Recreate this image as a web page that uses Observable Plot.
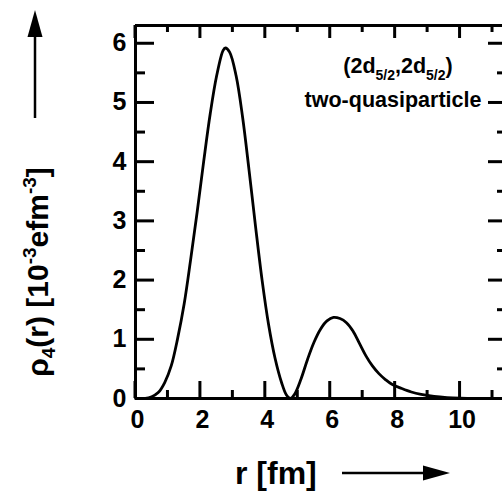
<!DOCTYPE html>
<html><head><meta charset="utf-8">
<script src="https://cdn.jsdelivr.net/npm/d3@7"></script>
<script src="https://cdn.jsdelivr.net/npm/@observablehq/plot@0.6"></script>
<style>
html,body{margin:0;padding:0;background:#fff;overflow:hidden;}
</style></head><body><div id="chart"></div>
<script>
// radius r [fm]
const r = [0, 0.3, 0.5, 0.7, 0.9, 1.1, 1.3, 1.5, 1.7, 1.9, 2.1, 2.3, 2.5, 2.7, 2.77, 2.9, 3.1, 3.3, 3.5, 3.7, 3.9, 4.1, 4.3, 4.5, 4.65, 4.77, 4.9, 5.1, 5.3, 5.5, 5.7, 5.9, 6.1, 6.3, 6.5, 6.7, 6.9, 7.1, 7.3, 7.5, 7.7, 7.9, 8.2, 8.5, 8.8, 9.2, 9.6, 10, 10.5, 11, 11.4];
// rho_4(r) [10^-3 e fm^-3]
const rho = [0, 0, 0.03, 0.1, 0.27, 0.55, 1.02, 1.6, 2.35, 3.15, 4.0, 4.8, 5.45, 5.88, 5.92, 5.85, 5.45, 4.75, 3.85, 2.9, 2.0, 1.25, 0.68, 0.27, 0.06, 0, 0.07, 0.33, 0.66, 0.95, 1.17, 1.31, 1.37, 1.35, 1.28, 1.14, 0.93, 0.72, 0.55, 0.42, 0.32, 0.24, 0.17, 0.11, 0.07, 0.035, 0.015, 0.005, 0, 0, 0];
const xMajorTicks = [0, 2, 4, 6, 8, 10];
const xMinorTicks = [1, 3, 5, 7, 9, 11];
const yMajorTicks = [0, 1, 2, 3, 4, 5, 6];
const yMinorTicks = [0.5, 1.5, 2.5, 3.5, 4.5, 5.5];
const xDomain = [0, 11.4];
const yDomain = [0, 6.3];
const xLabel = "r [fm]";
const annotation1 = [["(2d", 0], ["5/2", 1], [",2d", 0], ["5/2", 1], [")", 0]];
const annotation2 = "two-quasiparticle";

const data = r.map((v, i) => ({r: v, rho: rho[i]}));
const font = "'Liberation Sans', Arial, Helvetica, sans-serif";
const blank = () => "";
const sw = 3;
const W = 502, H = 491, mL = 135, mR = -3, mT = 25, mB = 93;
const FW = W - mL - mR, FH = H - mT - mB;

// inward y ticks: the opposite side's outward ticks, shifted across the frame
const yTickOpts = (anchor, size, shift) =>
  ({anchor, tickSize: size, strokeWidth: sw, tickFormat: blank, label: null, dx: shift});

const chart = Plot.plot({
  width: W, height: H,
  marginLeft: mL, marginRight: mR, marginTop: mT, marginBottom: mB,
  style: {fontFamily: font, background: "#fff", color: "#000"},
  x: {domain: xDomain, axis: null},
  y: {domain: yDomain, axis: null},
  marks: [
    Plot.ruleY([yDomain[0]], {strokeWidth: sw}),
    Plot.ruleY([yDomain[1]], {strokeWidth: sw}),
    Plot.ruleX([xDomain[0]], {strokeWidth: sw}),
    Plot.ruleX([xDomain[1]], {strokeWidth: sw}),
    Plot.axisY(yMajorTicks, yTickOpts("right", 18, -FW)),
    Plot.axisY(yMinorTicks, yTickOpts("right", 9, -FW)),
    Plot.axisY(yMajorTicks, yTickOpts("left", 17, FW)),
    Plot.axisY(yMinorTicks, yTickOpts("left", 8, FW)),
    // tick labels
    Plot.axisX(xMajorTicks, {anchor: "bottom", tickSize: 0, tickPadding: 12, dx: 2, fontSize: 25, fontWeight: "bold", tickFormat: d => String(d), label: null}),
    Plot.axisY(yMajorTicks, {anchor: "left", tickSize: 0, tickPadding: 9, fontSize: 25, fontWeight: "bold", tickFormat: d => String(d), label: null}),
    // curve
    Plot.line(data, {x: "r", y: "rho", curve: "catmull-rom", strokeWidth: 2.8, stroke: "#000"})
  ]
});
document.getElementById("chart").appendChild(chart);

const svg = d3.select(chart);
// inward x ticks, placed with Plot's own x and y scales
const sx = chart.scale("x"), sy = chart.scale("y");
const yBottom = sy.apply(yDomain[0]), yTop = sy.apply(yDomain[1]);
const xTickSpecs = [[xMajorTicks, 17, 13], [xMinorTicks, 8, 7]];
const tg = svg.append("g").attr("stroke", "#000").attr("stroke-width", sw).attr("fill", "none");
xTickSpecs.forEach(([ticks, lenBottom, lenTop]) => {
  ticks.forEach(t => {
    const px = sx.apply(t);
    tg.append("path").attr("d", `M${px},${yBottom}V${yBottom - lenBottom}`);
    tg.append("path").attr("d", `M${px},${yTop}V${yTop + lenTop}`);
  });
});

function richText(parent, parts, size, subSize, subShift) {
  let prev = 0;
  parts.forEach(([t, kind]) => {
    const shift = kind === 1 ? subShift : kind === -1 ? -subShift * 1.9 : 0;
    parent.append("tspan").attr("dy", shift - prev)
      .style("font-size", (kind ? subSize : size) + "px").text(t);
    prev = shift;
  });
}
// y axis label (rotated)
const yl = svg.append("text")
  .attr("transform", "translate(48,272) rotate(-90)")
  .attr("text-anchor", "middle")
  .style("font-family", font).style("font-weight", "bold").style("font-size", "30px").attr("fill", "#000");
richText(yl, [["ρ", 0], ["4", 1], ["(r) [10", 0], ["-3", -1], ["efm", 0], ["-3", -1], ["]", 0]], 30, 19, 6.5);
// x axis label
svg.append("text").attr("x", 235).attr("y", 484).attr("text-anchor", "start")
  .style("font-family", font).style("font-weight", "bold").style("font-size", "32px").attr("fill", "#000")
  .text(xLabel);
// arrows
svg.append("path").attr("d", "M35,118V34").attr("stroke", "#000").attr("stroke-width", 2.5);
svg.append("path").attr("d", "M35,10L27.5,37L42.5,37Z").attr("fill", "#000");
svg.append("path").attr("d", "M342,473H428").attr("stroke", "#000").attr("stroke-width", 2.5);
svg.append("path").attr("d", "M450,473L423,465.5L423,480.5Z").attr("fill", "#000");
// annotation
const a1 = svg.append("text").attr("x", 398).attr("y", 73).attr("text-anchor", "middle")
  .style("font-family", font).style("font-weight", "bold").style("font-size", "21.5px").attr("fill", "#000");
richText(a1, annotation1, 21.5, 14, 7);
svg.append("text").attr("x", 393).attr("y", 107).attr("text-anchor", "middle")
  .style("font-family", font).style("font-weight", "bold").style("font-size", "21.5px").attr("fill", "#000")
  .text(annotation2);
</script></body></html>
